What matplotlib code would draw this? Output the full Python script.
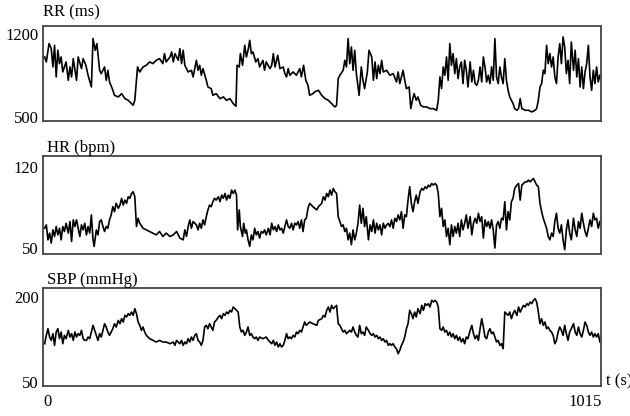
import matplotlib
matplotlib.use("Agg")
import matplotlib.pyplot as plt

plt.rcParams["font.family"] = ["Liberation Serif", "DejaVu Serif"]

# RR interval series (s, ms)
rr_t = [3, 6, 11, 15, 18, 21, 24, 27, 30, 33, 36, 42, 46, 49, 52, 55, 61, 64, 70, 73,
        78, 82, 88, 91, 95, 98, 103, 106, 112, 115, 118, 121, 126, 130, 137, 143, 149, 155, 161, 164,
        167, 170, 172, 176, 182, 188, 194, 200, 206, 212, 218, 221, 224, 231, 234, 237, 240, 246, 249, 252,
        255, 258, 264, 270, 273, 279, 282, 285, 288, 291, 297, 300, 306, 309, 315, 322, 328, 334, 340, 346,
        351, 353, 357, 359, 363, 367, 370, 373, 376, 379, 382, 387, 391, 394, 400, 403, 406, 413, 416, 419,
        422, 427, 431, 437, 440, 443, 446, 449, 455, 461, 467, 470, 474, 478, 482, 485, 491, 494, 501, 507,
        513, 519, 525, 531, 534, 537, 540, 546, 549, 552, 555, 558, 561, 564, 567, 570, 575, 579, 582, 585,
        590, 593, 598, 601, 604, 607, 610, 613, 616, 619, 625, 631, 637, 643, 646, 649, 655, 658, 661, 666,
        669, 672, 675, 679, 682, 687, 692, 698, 704, 710, 716, 719, 722, 725, 728, 731, 734, 737, 740, 743,
        746, 749, 752, 755, 758, 761, 764, 767, 770, 773, 777, 780, 783, 786, 789, 792, 795, 798, 801, 804,
        807, 810, 813, 816, 819, 822, 825, 828, 831, 834, 837, 840, 843, 846, 849, 852, 855, 858, 862, 865,
        868, 871, 877, 883, 889, 895, 898, 901, 904, 907, 910, 913, 916, 919, 922, 925, 928, 931, 934, 937,
        940, 943, 946, 949, 952, 955, 958, 961, 965, 968, 971, 974, 977, 980, 983, 986, 989, 992, 995, 998,
        1001, 1004, 1007, 1010, 1013]
rr = [1004, 962, 1116, 1074, 920, 1102, 836, 1060, 948, 1004, 878, 962, 808, 920, 836, 990, 808, 1004, 906, 990,
      934, 850, 752, 1158, 1060, 1116, 892, 864, 920, 808, 892, 794, 738, 682, 668, 696, 654, 640, 612, 598,
      640, 808, 920, 878, 920, 934, 962, 948, 976, 990, 948, 1032, 962, 1004, 1046, 962, 1032, 976, 1074, 948,
      1060, 934, 878, 892, 836, 976, 892, 934, 850, 906, 808, 752, 738, 682, 696, 654, 668, 640, 654, 612,
      590, 934, 920, 1032, 934, 1102, 1004, 1060, 1144, 1032, 1046, 962, 990, 920, 976, 892, 962, 906, 934, 1032,
      920, 1018, 906, 920, 864, 836, 906, 850, 878, 850, 906, 836, 934, 808, 766, 682, 696, 710, 724, 682,
      654, 640, 612, 584, 598, 822, 850, 892, 976, 920, 1158, 948, 1088, 892, 1060, 864, 682, 920, 808, 738,
      878, 1060, 1004, 808, 962, 822, 934, 864, 976, 878, 892, 850, 864, 794, 878, 780, 892, 808, 738, 752,
      570, 640, 696, 640, 668, 598, 584, 584, 570, 570, 556, 640, 836, 738, 920, 850, 1004, 808, 1116, 934,
      1032, 864, 990, 822, 920, 962, 780, 976, 892, 752, 962, 794, 892, 780, 766, 808, 920, 794, 1004, 920,
      794, 850, 780, 920, 808, 1158, 836, 780, 920, 836, 780, 990, 808, 724, 668, 640, 612, 570, 556, 570,
      654, 570, 556, 556, 542, 556, 570, 640, 752, 780, 892, 864, 1102, 948, 1032, 920, 1004, 836, 780, 1004,
      1116, 948, 1172, 1088, 864, 976, 780, 1130, 892, 1060, 836, 990, 752, 920, 738, 878, 948, 1102, 836, 724,
      892, 780, 920, 794, 850]

# heart rate series (s, bpm)
hr_t = [3, 6, 9, 12, 15, 18, 21, 24, 27, 30, 33, 36, 39, 42, 46, 49, 52, 55, 58, 61,
        64, 67, 70, 73, 76, 79, 82, 85, 88, 91, 93, 97, 100, 103, 106, 109, 112, 115, 118, 121,
        124, 127, 130, 133, 137, 140, 143, 146, 149, 152, 155, 158, 161, 164, 167, 170, 173, 176, 182, 188,
        194, 200, 206, 212, 218, 224, 231, 237, 243, 249, 255, 258, 261, 264, 267, 270, 273, 279, 282, 285,
        288, 291, 294, 297, 300, 303, 306, 309, 312, 315, 319, 322, 325, 328, 331, 334, 337, 340, 343, 346,
        349, 352, 354, 357, 359, 363, 365, 368, 370, 373, 376, 379, 382, 385, 388, 391, 394, 397, 400, 403,
        406, 410, 413, 416, 419, 422, 425, 428, 431, 434, 437, 440, 443, 446, 449, 452, 455, 458, 461, 464,
        467, 470, 473, 476, 479, 482, 485, 488, 491, 498, 501, 507, 510, 513, 516, 519, 522, 525, 528, 531,
        534, 537, 540, 543, 546, 549, 552, 555, 558, 561, 564, 567, 570, 573, 576, 579, 582, 585, 588, 592,
        595, 598, 601, 604, 607, 610, 613, 616, 619, 622, 625, 628, 631, 634, 637, 640, 643, 646, 649, 652,
        655, 658, 661, 664, 667, 670, 673, 676, 679, 682, 686, 689, 692, 695, 698, 701, 704, 707, 710, 713,
        716, 719, 722, 725, 728, 731, 734, 737, 740, 743, 746, 749, 752, 755, 758, 761, 764, 767, 770, 773,
        777, 780, 783, 786, 789, 792, 795, 798, 801, 804, 807, 810, 813, 816, 819, 822, 825, 828, 831, 834,
        837, 840, 843, 846, 849, 852, 855, 858, 862, 865, 868, 871, 874, 877, 880, 883, 886, 889, 892, 895,
        898, 901, 904, 907, 910, 913, 916, 919, 922, 925, 928, 931, 934, 937, 940, 943, 946, 949, 952, 955,
        958, 961, 965, 968, 971, 974, 977, 980, 983, 986, 989, 992, 995, 998, 1001, 1004, 1007, 1010, 1013]
hr = [67.1, 70.0, 57.1, 62.9, 54.3, 65.7, 60.0, 68.6, 61.4, 67.1, 57.1, 68.6, 64.3, 71.4, 62.9, 72.9, 55.7, 74.3, 68.6, 74.3,
      67.1, 60.0, 70.0, 65.7, 71.4, 61.4, 68.6, 62.9, 78.6, 57.1, 51.4, 65.7, 61.4, 72.9, 74.3, 68.6, 64.3, 68.6, 67.1, 74.3,
      78.6, 85.7, 81.4, 88.6, 84.3, 87.1, 92.9, 87.1, 91.4, 88.6, 94.3, 92.9, 97.1, 98.6, 94.3, 68.6, 75.7, 71.4, 67.1, 65.7,
      64.3, 62.9, 61.4, 64.3, 60.0, 62.9, 60.0, 61.4, 64.3, 58.6, 57.1, 65.7, 60.0, 68.6, 74.3, 67.1, 72.9, 70.0, 65.7, 71.4,
      67.1, 74.3, 70.0, 77.1, 82.9, 87.1, 85.7, 90.0, 92.9, 91.4, 94.3, 90.0, 95.7, 92.9, 97.1, 91.4, 95.7, 92.9, 100.0, 97.1,
      100.0, 95.7, 65.7, 82.9, 68.6, 60.0, 71.4, 62.9, 65.7, 57.1, 51.4, 61.4, 57.1, 67.1, 61.4, 64.3, 58.6, 64.3, 62.9, 65.7,
      61.4, 67.1, 61.4, 71.4, 65.7, 68.6, 64.3, 70.0, 65.7, 67.1, 62.9, 68.6, 74.3, 68.6, 67.1, 71.4, 65.7, 71.4, 70.0, 72.9,
      67.1, 74.3, 64.3, 74.3, 75.7, 84.3, 88.6, 87.1, 85.7, 82.9, 85.7, 88.6, 94.3, 91.4, 97.1, 94.3, 100.0, 95.7, 101.4, 98.6,
      97.1, 77.1, 72.9, 68.6, 70.0, 64.3, 67.1, 57.1, 62.9, 52.9, 65.7, 57.1, 62.9, 71.4, 87.1, 71.4, 84.3, 68.6, 77.1, 57.1,
      70.0, 64.3, 74.3, 62.9, 71.4, 65.7, 70.0, 61.4, 71.4, 67.1, 70.0, 71.4, 68.6, 74.3, 67.1, 75.7, 72.9, 78.6, 74.3, 81.4,
      67.1, 78.6, 77.1, 91.4, 102.9, 88.6, 81.4, 90.0, 95.7, 88.6, 98.6, 101.4, 100.0, 102.9, 101.4, 104.3, 102.9, 105.7, 104.3, 105.7,
      104.3, 97.1, 77.1, 84.3, 68.6, 74.3, 60.0, 67.1, 52.9, 70.0, 60.0, 68.6, 62.9, 71.4, 60.0, 74.3, 65.7, 71.4, 78.6, 67.1,
      77.1, 61.4, 71.4, 75.7, 71.4, 80.0, 72.9, 77.1, 58.6, 74.3, 68.6, 72.9, 67.1, 74.3, 65.7, 50.0, 70.0, 72.9, 67.1, 75.7,
      74.3, 90.0, 65.7, 81.4, 74.3, 90.0, 92.9, 101.4, 104.3, 105.7, 91.4, 104.3, 105.7, 107.1, 107.1, 108.6, 107.1, 108.6, 110.0, 107.1,
      104.3, 102.9, 88.6, 81.4, 75.7, 71.4, 67.1, 60.0, 57.1, 62.9, 60.0, 72.9, 80.0, 67.1, 62.9, 70.0, 57.1, 48.6, 65.7, 74.3,
      62.9, 57.1, 75.7, 65.7, 60.0, 72.9, 67.1, 80.0, 71.4, 64.3, 60.0, 67.1, 74.3, 68.6, 80.0, 74.3, 75.7, 67.1, 72.9]

# systolic blood pressure series (s, mmHg)
sbp_t = [3, 6, 9, 12, 15, 18, 21, 24, 27, 30, 33, 36, 39, 42, 46, 49, 52, 55, 58, 61,
         64, 67, 70, 73, 76, 79, 82, 85, 88, 91, 94, 97, 100, 103, 106, 109, 112, 115, 118, 121,
         124, 127, 130, 133, 137, 140, 143, 146, 149, 152, 155, 158, 161, 164, 167, 170, 173, 176, 179, 182,
         185, 188, 194, 200, 206, 212, 218, 224, 231, 237, 240, 243, 249, 252, 255, 258, 261, 264, 267, 270,
         273, 276, 279, 282, 285, 288, 291, 294, 297, 300, 303, 306, 309, 312, 315, 319, 322, 325, 328, 331,
         334, 337, 340, 343, 346, 349, 352, 355, 358, 361, 364, 367, 370, 373, 376, 379, 382, 385, 388, 391,
         394, 400, 406, 410, 413, 416, 419, 422, 425, 428, 431, 434, 437, 440, 443, 446, 449, 452, 455, 458,
         461, 464, 467, 470, 473, 476, 479, 482, 485, 491, 498, 501, 507, 510, 513, 516, 519, 522, 525, 528,
         531, 534, 537, 540, 543, 546, 549, 552, 555, 558, 561, 564, 567, 570, 573, 576, 579, 582, 585, 588,
         592, 595, 598, 601, 604, 607, 610, 613, 616, 619, 622, 625, 628, 631, 634, 637, 640, 643, 646, 649,
         652, 655, 658, 661, 664, 667, 670, 673, 676, 679, 682, 686, 689, 692, 695, 698, 701, 704, 707, 710,
         713, 716, 719, 722, 725, 728, 731, 734, 737, 740, 743, 746, 749, 752, 755, 758, 761, 764, 767, 770,
         773, 777, 780, 783, 786, 789, 792, 795, 798, 801, 804, 807, 810, 813, 816, 819, 822, 825, 828, 831,
         834, 837, 840, 843, 846, 849, 852, 855, 858, 862, 865, 868, 871, 874, 877, 880, 883, 886, 889, 892,
         895, 898, 901, 904, 907, 910, 913, 916, 919, 922, 925, 928, 931, 934, 937, 940, 943, 946, 949, 952,
         955, 958, 961, 965, 968, 971, 974, 977, 980, 983, 986, 989, 992, 995, 998, 1001, 1004, 1007, 1010, 1013]
sbp = [117.6, 132.4, 144.1, 129.4, 123.5, 135.3, 114.7, 138.2, 144.1, 126.5, 138.2, 117.6, 132.4, 126.5, 141.2, 129.4, 135.3, 123.5, 138.2, 129.4,
       135.3, 132.4, 141.2, 126.5, 123.5, 123.5, 129.4, 126.5, 138.2, 150.0, 141.2, 132.4, 123.5, 135.3, 129.4, 141.2, 152.9, 147.1, 138.2, 132.4,
       138.2, 144.1, 152.9, 147.1, 158.8, 152.9, 161.8, 155.9, 167.6, 164.7, 170.6, 167.6, 173.5, 167.6, 179.4, 170.6, 155.9, 150.0, 141.2, 147.1,
       138.2, 132.4, 126.5, 123.5, 120.6, 123.5, 120.6, 120.6, 117.6, 120.6, 114.7, 123.5, 117.6, 123.5, 114.7, 120.6, 117.6, 126.5, 120.6, 129.4,
       123.5, 132.4, 135.3, 123.5, 120.6, 114.7, 123.5, 147.1, 150.0, 144.1, 152.9, 147.1, 141.2, 155.9, 158.8, 164.7, 167.6, 161.8, 170.6, 167.6,
       173.5, 170.6, 176.5, 173.5, 182.4, 179.4, 176.5, 173.5, 147.1, 138.2, 141.2, 132.4, 138.2, 147.1, 132.4, 135.3, 129.4, 126.5, 129.4, 123.5,
       129.4, 126.5, 129.4, 123.5, 120.6, 117.6, 123.5, 114.7, 120.6, 111.8, 117.6, 111.8, 114.7, 123.5, 135.3, 126.5, 129.4, 126.5, 132.4, 129.4,
       138.2, 135.3, 141.2, 138.2, 147.1, 155.9, 150.0, 152.9, 155.9, 152.9, 150.0, 158.8, 161.8, 167.6, 164.7, 176.5, 182.4, 173.5, 185.3, 179.4,
       182.4, 185.3, 152.9, 150.0, 144.1, 138.2, 141.2, 135.3, 138.2, 141.2, 138.2, 147.1, 138.2, 132.4, 129.4, 150.0, 135.3, 138.2, 132.4, 147.1,
       141.2, 135.3, 132.4, 135.3, 129.4, 132.4, 126.5, 129.4, 123.5, 126.5, 120.6, 123.5, 114.7, 117.6, 114.7, 117.6, 111.8, 108.8, 100.0, 105.9,
       114.7, 120.6, 129.4, 144.1, 152.9, 176.5, 170.6, 161.8, 173.5, 164.7, 179.4, 170.6, 185.3, 176.5, 188.2, 185.3, 188.2, 182.4, 194.1, 191.2,
       194.1, 191.2, 182.4, 144.1, 141.2, 147.1, 138.2, 141.2, 132.4, 138.2, 129.4, 135.3, 126.5, 132.4, 123.5, 129.4, 120.6, 126.5, 117.6, 129.4,
       126.5, 141.2, 150.0, 135.3, 126.5, 132.4, 123.5, 144.1, 161.8, 147.1, 129.4, 126.5, 138.2, 144.1, 135.3, 138.2, 129.4, 120.6, 123.5, 114.7,
       117.6, 108.8, 173.5, 170.6, 167.6, 173.5, 161.8, 170.6, 176.5, 167.6, 182.4, 173.5, 179.4, 185.3, 182.4, 188.2, 185.3, 191.2, 188.2, 194.1,
       197.1, 191.2, 173.5, 152.9, 161.8, 150.0, 155.9, 144.1, 147.1, 141.2, 138.2, 132.4, 117.6, 123.5, 138.2, 147.1, 141.2, 132.4, 150.0, 135.3,
       123.5, 138.2, 144.1, 152.9, 138.2, 132.4, 147.1, 135.3, 129.4, 141.2, 155.9, 150.0, 138.2, 132.4, 138.2, 129.4, 135.3, 129.4, 135.3, 120.6]

panels = [
    # series, times, ylim, ticks, label, label x (px), label y (px)
    (rr, rr_t, (466, 1264), [500, 1200], "RR (ms)", 43, 12),
    (hr, hr_t, (44.9, 129.4), [50, 120], "HR (bpm)", 47, 148),
    (sbp, sbp_t, (43, 215.9), [50, 200], "SBP (mmHg)", 47, 280),
]
# axes boxes in pixels: top, bottom
boxes = [(26, 121), (156, 254), (288, 386)]

W, H = 630, 416
fig = plt.figure(figsize=(W / 100, H / 100), dpi=100)
x0, x1 = 43, 601

for (vals, times, ylim, ticks, label, lx, ly), (top, bot) in zip(panels, boxes):
    ax = fig.add_axes([x0 / W, 1 - bot / H, (x1 - x0) / W, (bot - top) / H])
    ax.plot(times, vals, color="black", lw=1.2)
    ax.set_xlim(0, 1015)
    ax.set_ylim(*ylim)
    ax.set_yticks(ticks)
    ax.set_yticklabels([str(t) for t in ticks])
    ax.set_xticks([])
    ax.tick_params(axis="y", length=0, pad=3, labelsize=12)
    for s in ax.spines.values():
        s.set_color("#444444")
        s.set_linewidth(1.3)
    fig.text(lx / W, 1 - ly / H, label, fontsize=12, ha="left", va="center")

# time axis annotations under the last panel
fig.text(43 / W, 1 - 402 / H, "0", fontsize=12, ha="left", va="center")
fig.text(602 / W, 1 - 402 / H, "1015", fontsize=12, ha="right", va="center")
fig.text(606 / W, 1 - 381 / H, "t (s)", fontsize=12, ha="left", va="center")

fig.savefig("out.png", dpi=100)
